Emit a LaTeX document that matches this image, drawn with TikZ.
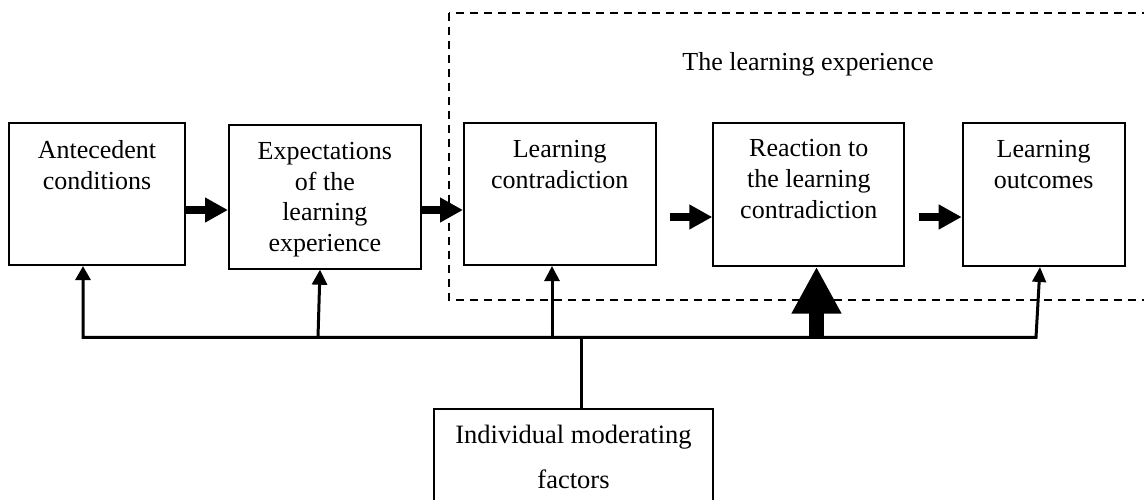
\documentclass[tikz,border=0pt]{standalone}
\usepackage{fontspec}
\setmainfont{Liberation Serif}
\usetikzlibrary{arrows.meta}
\tikzset{
  box/.style={draw, line width=2pt, inner sep=0pt},
  txt/.style={align=center, anchor=base, inner sep=0pt, font=\fontsize{26}{30.7}\selectfont},
  bottxt/.style={align=center, anchor=base, inner sep=0pt, font=\fontsize{26.5}{45}\selectfont},
  blockarrow/.style={line width=8.5pt, -{Triangle[length=23pt,width=23.5pt]}},
  link/.style={line width=3pt},
  smalltip/.style={-{Triangle[length=15pt,width=15pt]}},
  bigarrow/.style={line width=14.7pt, -{Triangle[length=47pt,width=46.7pt]}},
  region/.style={line width=1.6pt, dash pattern=on 8pt off 6pt}
}
\begin{document}
\begin{tikzpicture}[x=1pt,y=-1pt]
\useasboundingbox (0,0) rectangle (1144,499);
% dashed region
\draw[region] (449,12.7) rectangle (1170,300);
\node[txt] (title) at (808,70.7) {The learning experience};
% boxes
\node[box, minimum width=176pt, minimum height=142.3pt] (b1) at (97,193.9) {};
\node[box, minimum width=191.7pt, minimum height=143.7pt] (b2) at (324.85,196.85) {};
\node[box, minimum width=191.5pt, minimum height=142.3pt] (b3) at (559.75,193.9) {};
\node[box, minimum width=191pt, minimum height=143pt] (b4) at (808.8,194.2) {};
\node[box, minimum width=161.8pt, minimum height=143.3pt] (b5) at (1043.6,194.35) {};
\node[box, minimum width=279pt, minimum height=120pt] (bot) at (573.5,469) {};
% texts (base anchor = last line's baseline)
\node[txt] (t1) at (97,189) {Antecedent\\conditions};
\node[txt] (t2) at (324.85,251.5) {Expectations\\of the\\learning\\experience};
\node[txt] (t3) at (559.75,188.5) {Learning\\contradiction};
\node[txt] (t4) at (808.8,218.3) {Reaction to\\the learning\\contradiction};
\node[txt] (t5) at (1043.6,188) {Learning\\outcomes};
\node[bottxt] (t6) at (573.5,488) {Individual moderating\\factors};
% horizontal block arrows
\coordinate (ya) at (0,210);
\coordinate (yb) at (0,217);
\coordinate (s3) at (670,217);
\coordinate (s4) at (919,217);
\draw[blockarrow] (b1.east |- ya) -- (b2.west |- ya);
\draw[blockarrow] (b2.east |- ya) -- (b3.west |- ya);
\draw[blockarrow] (s3) -- (b4.west |- yb);
\draw[blockarrow] (s4) -- (b5.west |- yb);
% moderating links
\coordinate (jl) at (83,337.3);
\coordinate (jr) at (1036,337.3);
\coordinate (jn) at (581.7,337.3);
\coordinate (j2) at (318,337.3);
\coordinate (j3) at (552,337.3);
\coordinate (j4) at (816.5,337.3);
\draw[link] (jn) -- (jn |- bot.north);
\draw[link, {Triangle[length=14pt,width=15pt]}-{Triangle[length=15pt,width=13.5pt]}, line join=miter]
  (b1.south -| jl) -- (jl) -- (jr) -- ([xshift=-3.6pt]b5.south);
\draw[link, smalltip] (j2) -- ([xshift=-4.85pt]b2.south);
\draw[link, smalltip] (j3) -- (b3.south -| j3);
\draw[bigarrow] (j4) -- (b4.south -| j4);
\end{tikzpicture}
\end{document}
